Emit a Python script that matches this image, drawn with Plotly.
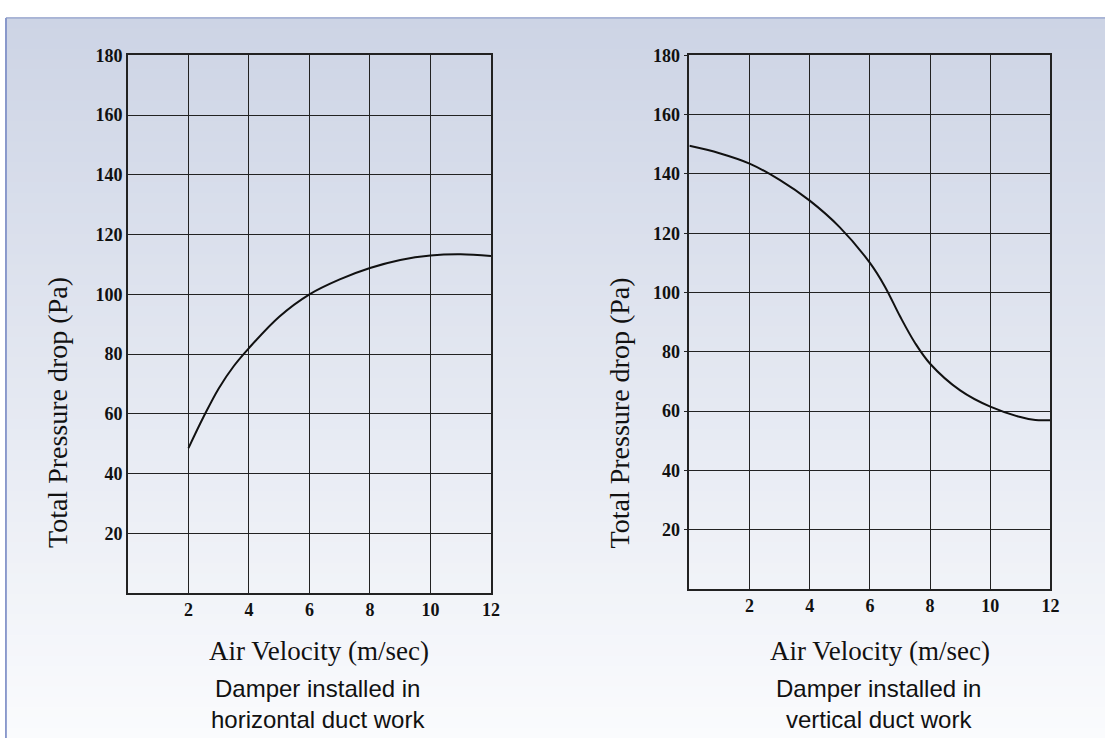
import plotly.graph_objects as go

# ---- data ----
h_velocity = [2, 2.5, 3, 3.5, 4, 5, 6, 7, 8, 9, 10, 11, 12]
h_pressure = [48.5, 59, 68.5, 76, 82, 92.5, 100, 105, 108.8, 111.5, 113, 113.4, 112.8]

v_velocity = [0, 1, 2, 3, 4, 5, 6, 6.5, 7, 7.5, 8, 9, 10, 11, 11.5, 12.1]
v_pressure = [149.5, 147, 143.5, 138, 131, 122, 110, 102, 92, 83, 76, 67, 61.5, 58, 57, 57]

x_ticks = [2, 4, 6, 8, 10, 12]
y_ticks = [20, 40, 60, 80, 100, 120, 140, 160, 180]

x_title = "Air Velocity (m/sec)"
y_title = "Total Pressure drop (Pa)"
captions = ["Damper installed in<br>horizontal duct work",
            "Damper installed in<br>vertical duct work"]

W, H = 1114, 738

fig = go.Figure()
fig.add_trace(go.Scatter(x=h_velocity, y=h_pressure, mode="lines",
                         line=dict(color="#111111", width=2, shape="spline"),
                         xaxis="x", yaxis="y", showlegend=False))
fig.add_trace(go.Scatter(x=v_velocity, y=v_pressure, mode="lines",
                         line=dict(color="#111111", width=2, shape="spline"),
                         xaxis="x2", yaxis="y2", showlegend=False, cliponaxis=False))

tickfont = dict(family="Liberation Serif", size=18, color="#111111", weight="bold")

def xax(domain, anchor):
    return dict(domain=domain, anchor=anchor, range=[0, 12], tickvals=x_ticks,
                showgrid=True, gridcolor="#222222", gridwidth=1.3,
                showline=True, linecolor="#222222", linewidth=1.5, mirror=True,
                zeroline=False, tickfont=tickfont, ticks="", fixedrange=True)

def yax(domain, anchor, ticks=""):
    return dict(domain=domain, anchor=anchor, range=[0, 180], tickvals=y_ticks,
                showgrid=True, gridcolor="#222222", gridwidth=1.3,
                showline=True, linecolor="#222222", linewidth=1.5, mirror=True,
                zeroline=False, tickfont=tickfont, ticks=ticks, ticklen=4,
                tickcolor="#222222", fixedrange=True)

# ---- gradient background (style bands) ----
shapes = []
top_c = (205, 212, 229)
bot_c = (250, 251, 253)
y0px = 8
n = 70
for i in range(n):
    t = i / (n - 1)
    c = tuple(int(round(top_c[k] + (bot_c[k] - top_c[k]) * t)) for k in range(3))
    ya = y0px + (H - y0px) * i / n
    yb = y0px + (H - y0px) * (i + 1) / n
    shapes.append(dict(type="rect", xref="paper", yref="paper",
                       x0=6 / W, x1=1, y0=1 - yb / H - 0.001, y1=1 - ya / H,
                       fillcolor="rgb(%d,%d,%d)" % c, line=dict(width=0), layer="below"))
shapes.append(dict(type="line", xref="paper", yref="paper", x0=6 / W, x1=6 / W,
                   y0=0, y1=1 - y0px / H, line=dict(color="#6c7fbf", width=1.5)))
shapes.append(dict(type="line", xref="paper", yref="paper", x0=6 / W, x1=1,
                   y0=1 - y0px / H, y1=1 - y0px / H, line=dict(color="#8c9bc8", width=1.2)))

def py(px):
    return 1 - px / H

def px_(x):
    return x / W

annotations = []
for idx, (cx_title, cx_cap, cx_y) in enumerate([(322, 321, 58), (887, 886, 625)]):
    annotations.append(dict(text=x_title, x=px_(cx_title), y=py(650), xref="paper", yref="paper",
                            showarrow=False, xanchor="center", yanchor="middle",
                            font=dict(family="Liberation Serif", size=27, color="#111111")))
    annotations.append(dict(text=captions[idx],
                            x=px_(cx_cap), y=py(704), xref="paper", yref="paper",
                            showarrow=False, xanchor="center", yanchor="middle",
                            font=dict(family="Liberation Sans", size=24, color="#111111")))
    annotations.append(dict(text=y_title, x=px_(cx_y), y=py(408), xref="paper", yref="paper",
                            showarrow=False, xanchor="center", yanchor="middle", textangle=-90,
                            font=dict(family="Liberation Serif", size=28, color="#111111")))

fig.update_layout(
    width=W, height=H,
    margin=dict(l=0, r=0, t=0, b=0),
    paper_bgcolor="white",
    plot_bgcolor="rgba(0,0,0,0)",
    xaxis=xax([129 / W, 495 / W], "y"),
    yaxis=yax([py(591), py(46)], "x"),
    xaxis2=xax([695 / W, 1059 / W], "y2"),
    yaxis2=yax([py(587), py(46)], "x2", ticks="outside"),
    shapes=shapes,
    annotations=annotations,
)

fig.write_html(
    "out.html",
    config={"displayModeBar": False},
    post_script=(
        "document.documentElement.style.margin='0';"
        "document.body.style.margin='0';document.body.style.overflow='hidden';"
        "var d=document.getElementById('{plot_id}');"
        "d.style.position='fixed';d.style.top='0px';d.style.left='0px';"
    ),
)
